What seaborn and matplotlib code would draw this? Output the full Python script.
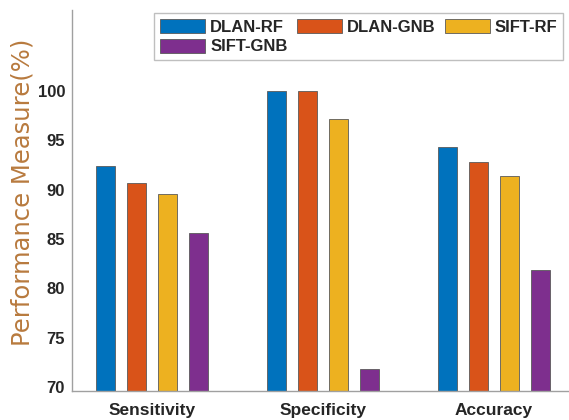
import matplotlib

matplotlib.use("Agg")
import matplotlib.pyplot as plt
import pandas as pd
import seaborn as sns

sns.set_theme(style="white")
plt.rcParams["font.family"] = ["Liberation Sans", "DejaVu Sans"]

# values
metrics = ["Sensitivity", "Specificity", "Accuracy"]
methods = ["DLAN-RF", "DLAN-GNB", "SIFT-RF", "SIFT-GNB"]
dlan_rf = [92.4, 100.0, 94.3]
dlan_gnb = [90.7, 100.0, 92.8]
sift_rf = [89.6, 97.2, 91.4]
sift_gnb = [85.6, 71.8, 81.9]
yticks = [70, 75, 80, 85, 90, 95, 100]
palette = ["#0072BD", "#D95319", "#EDB120", "#7E2F8E"]

series = [dlan_rf, dlan_gnb, sift_rf, sift_gnb]
rows = []
for name, vals in zip(methods, series):
    for metric, v in zip(metrics, vals):
        rows.append({"metric": metric, "method": name, "value": v})
df = pd.DataFrame(rows)

fig = plt.figure(figsize=(5.69, 4.2), dpi=100)
ax = fig.add_axes([72 / 569, 29 / 420, 1 - 72 / 569, 381 / 420])

sns.barplot(
    data=df,
    x="metric",
    y="value",
    hue="method",
    hue_order=methods,
    order=metrics,
    palette=palette,
    saturation=1,
    width=0.725,
    gap=0.39,
    edgecolor="#5a5a5a",
    linewidth=0.6,
    errorbar=None,
    ax=ax,
)

ax.set_ylim(69.6, 108.2)
ax.set_xlim(-0.468, 2.44)
ax.set_yticks(yticks)
ax.set_yticklabels([str(t) for t in yticks], fontsize=12, fontweight="bold", color="#262626")
ax.set_xticklabels(metrics, fontsize=12.5, fontweight="bold", color="#262626")
ax.tick_params(axis="y", direction="in", length=3, color="#888888", pad=5)
ax.tick_params(axis="x", length=0, pad=9)
ax.set_xlabel("")
ax.set_ylabel("Performance Measure(%)", fontsize=17.5, color="#b87a3e",
              family="DejaVu Sans")
ax.yaxis.set_label_coords(-(72 - 35) / 497, (390 - 191) / 381)
for side in ["top", "right"]:
    ax.spines[side].set_visible(False)
for side in ["left", "bottom"]:
    ax.spines[side].set_color("#a0a0a0")
    ax.spines[side].set_linewidth(1.0)

# row-wise legend order like the reference
handles, labels = ax.get_legend_handles_labels()
order = [0, 3, 1, 2]
leg = ax.legend(
    [handles[i] for i in order],
    [labels[i] for i in order],
    ncol=3,
    loc="upper right",
    bbox_to_anchor=(563 / 569, 1 - 13 / 420),
    bbox_transform=fig.transFigure,
    borderaxespad=0,
    fancybox=False,
    frameon=True,
    edgecolor="#b0b0b0",
    handlelength=2.7,
    handleheight=0.9,
    handletextpad=0.3,
    columnspacing=0.55,
    labelspacing=0.25,
    borderpad=0.35,
    prop={"size": 12, "weight": "bold"},
)
leg.get_frame().set_linewidth(1.0)

fig.savefig("out.png", dpi=100)
